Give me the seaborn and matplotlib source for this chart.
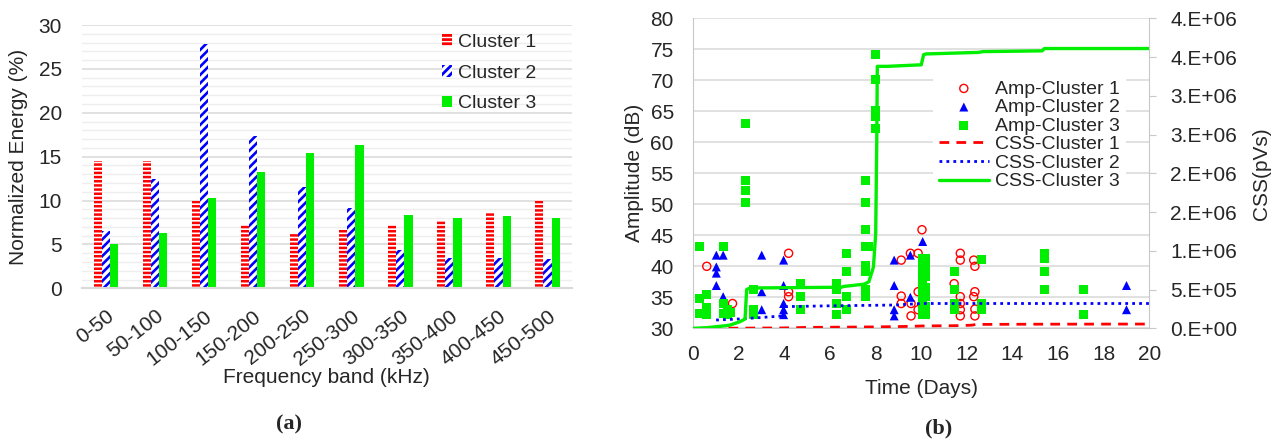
import numpy as np
import pandas as pd
import matplotlib
matplotlib.use("Agg")
import matplotlib.pyplot as plt
import matplotlib.patches as mpatches
import matplotlib.lines as mlines
import seaborn as sns

# ---------------- data: panel (a) ----------------
bands = ["0-50", "50-100", "100-150", "150-200", "200-250",
         "250-300", "300-350", "350-400", "400-450", "450-500"]
cluster_names = ["Cluster 1", "Cluster 2", "Cluster 3"]
energy_c1 = [14.5, 14.5, 9.9, 7.2, 6.3, 6.8, 7.2, 7.8, 8.6, 10.1]
energy_c2 = [6.5, 12.5, 27.8, 17.3, 11.5, 9.1, 4.4, 3.5, 3.5, 3.3]
energy_c3 = [5.1, 6.3, 10.3, 13.2, 15.4, 16.3, 8.4, 8.05, 8.2, 8.05]

# ---------------- data: panel (b) ----------------
amp1_t = [0.59, 1.72, 4.18, 4.18, 4.18, 9.12, 9.12, 9.12, 9.52, 9.55, 9.55,
          9.86, 9.86, 9.86, 10.03, 11.44, 11.71, 11.71, 11.71, 11.71, 11.71,
          11.71, 12.30, 12.35, 12.35, 12.30, 12.35, 12.35]
amp1_db = [40.0, 34.0, 42.1, 35.9, 35.1, 41.0, 35.2, 34.0, 42.1, 32.0, 34.0,
           42.1, 33.0, 35.9, 45.9, 37.2, 42.1, 41.0, 35.1, 34.0, 33.0,
           32.0, 41.0, 40.0, 35.9, 35.1, 33.1, 32.0]

amp2_t = [1.01, 1.31, 1.01, 1.01, 1.01, 1.31, 3.0, 3.0, 3.0, 3.96, 3.96, 3.96,
          3.96, 3.96, 8.81, 8.81, 8.81, 8.81, 9.52, 9.52, 10.06, 10.06, 19.0, 19.0]
amp2_db = [41.8, 41.8, 39.9, 38.9, 36.9, 35.1, 41.8, 35.9, 33.0, 41.0, 36.9, 34.0,
           33.0, 32.2, 41.0, 36.9, 33.0, 32.0, 41.8, 35.0, 44.0, 34.8, 36.9, 33.0]

amp3_t = [0.29, 0.29, 0.29, 0.56, 0.56, 0.56,
          1.31, 1.31, 1.31, 1.52, 1.52, 1.65,
          2.27, 2.27, 2.27, 2.27,
          2.66, 2.66, 2.66,
          4.68, 4.68, 4.68,
          6.27, 6.27, 6.27, 6.27,
          6.71, 6.71, 6.71, 6.71,
          7.55, 7.55, 7.55, 7.55, 7.55, 7.55, 7.55, 7.55, 7.70,
          8.00, 8.00, 8.00, 8.00, 8.00,
          10.06, 10.06, 10.06, 10.06, 10.06, 10.06, 10.06, 10.06, 10.06, 10.06,
          10.19, 10.19, 10.19, 10.19, 10.19, 10.19, 10.19,
          11.44, 11.44, 11.44, 11.44,
          12.64, 12.64, 12.64,
          15.42, 15.42, 15.42, 15.42,
          17.10, 17.10]
amp3_db = [43.2, 34.8, 32.4, 35.4, 33.4, 32.2,
           43.2, 34.0, 32.4, 33.0, 32.2, 32.6,
           63.0, 53.9, 52.2, 50.3,
           36.2, 33.0, 32.2,
           37.2, 35.1, 33.0,
           37.2, 36.2, 34.0, 32.2,
           42.0, 39.1, 35.1, 33.0,
           53.9, 50.3, 46.0, 43.2, 40.2, 39.1, 36.2, 35.1, 43.2,
           74.1, 70.2, 65.2, 64.2, 62.3,
           41.3, 40.2, 39.1, 38.1, 37.0, 35.9, 34.8, 33.8, 32.7, 32.2,
           41.3, 39.8, 38.3, 36.6, 35.1, 33.5, 32.2,
           39.1, 36.2, 34.0, 33.0,
           41.1, 34.0, 33.0,
           42.1, 41.3, 39.1, 36.2,
           36.2, 32.2]

css1_t = [0.8, 2.0, 4.0, 5.0, 6.0, 8.0, 9.5, 10.0, 11.5, 12.2, 12.4, 15.0, 20.0]
css1_v = [0, 2e3, 5e3, 1.2e4, 1.4e4, 1.8e4, 2.5e4, 3.0e4, 3.4e4, 4.0e4, 5.0e4, 5.3e4, 5.5e4]

css2_t = [1.0, 2.0, 3.0, 3.95, 4.05, 6.0, 8.8, 10.0, 20.0]
css2_v = [1.07e5, 1.2e5, 1.4e5, 1.6e5, 2.8e5, 2.9e5, 3.0e5, 3.2e5, 3.2e5]

css3_t = [0.0, 0.6, 1.0, 1.6, 2.05, 2.27, 2.34, 2.5, 6.5, 6.6, 7.5, 7.7, 7.9,
          8.0, 8.05, 8.07, 8.5, 10.0, 10.1, 10.2, 12.5, 12.7, 15.3, 15.4, 20.0]
css3_v = [0, 8e3, 2e4, 4e4, 8.6e4, 1.2e5, 5.0e5, 5.2e5, 5.3e5, 5.4e5, 5.7e5, 6.0e5, 7.9e5,
          1.22e6, 2.5e6, 3.38e6, 3.38e6, 3.40e6, 3.53e6, 3.54e6, 3.56e6, 3.57e6, 3.58e6, 3.61e6, 3.61e6]

css_tick_values = [0, 5e5, 1e6, 1.5e6, 2e6, 2.5e6, 3e6, 3.5e6, 4e6]
css_tick_labels = ["0.E+00", "5.E+05", "1.E+06", "2.E+06", "2.E+06",
                   "3.E+06", "3.E+06", "4.E+06", "4.E+06"]

# ---------------- style ----------------
sns.set_style("white")
plt.rcParams["font.family"] = ["Liberation Sans", "DejaVu Sans"]
plt.rcParams["hatch.linewidth"] = 2.0

RED = "#ff0000"
BLUE = "#0000ff"
GREEN = "#00ee00"
GRID = "#d9d9d9"
GRID_MINOR = "#eeeeee"
SPINE = "#c8c8c8"
FS = 15

fig = plt.figure(figsize=(12.81, 4.40), dpi=100)

# ================= panel (a) =================
ax = fig.add_axes([81.5 / 1281, (440 - 288.3) / 440, 490.5 / 1281, 263.3 / 440])
df = pd.DataFrame({
    "band": bands * 3,
    "cluster": sum([[c] * len(bands) for c in cluster_names], []),
    "energy": energy_c1 + energy_c2 + energy_c3,
})
sns.barplot(data=df, x="band", y="energy", hue="cluster", order=bands,
            hue_order=cluster_names, width=0.5, gap=0, ax=ax,
            palette=[RED, BLUE, GREEN], legend=False, saturation=1)

styles = [dict(face="white", edge=RED, hatch="----", hlw=1.8),
          dict(face="white", edge=BLUE, hatch="////", hlw=1.9),
          dict(face=GREEN, edge=GREEN, hatch=None, hlw=1.0)]


def style_patch(p, st):
    p.set_facecolor(st["face"])
    p.set_edgecolor(st["edge"])
    p.set_linewidth(0)
    if st["hatch"]:
        p.set_hatch(st["hatch"])
        if hasattr(p, "set_hatch_linewidth"):
            p.set_hatch_linewidth(st["hlw"])


for cont, st in zip(ax.containers, styles):
    for p in cont:
        style_patch(p, st)

ax.set_ylim(0, 30)
ax.set_xlim(-0.5, 9.5)
ax.set_yticks(np.arange(0, 31, 5))
ax.set_yticks(np.arange(0, 31, 1), minor=True)
ax.yaxis.grid(True, which="major", color=GRID, lw=1.1)
ax.yaxis.grid(True, which="minor", color=GRID_MINOR, lw=1.0)
ax.set_axisbelow(True)
for s in ["top", "right", "left"]:
    ax.spines[s].set_visible(False)
ax.spines["bottom"].set_color(GRID)
ax.spines["bottom"].set_linewidth(1.5)
ax.tick_params(axis="both", which="both", length=0, labelsize=FS)
ax.tick_params(axis="y", pad=14)
ax.tick_params(axis="x", pad=13)
ax.set_xticks(range(len(bands)))
ax.set_xticklabels(bands, rotation=38, ha="right", rotation_mode="anchor")
ax.set_xlabel("Frequency band (kHz)", fontsize=FS)
ax.set_ylabel("Normalized Energy (%)", fontsize=FS)
ax.xaxis.set_label_coords(0.5, (288.3 - 377) / 263.3)
ax.xaxis.label.set_va("center")
ax.yaxis.set_label_coords((19 - 81.5) / 490.5, 0.5)
ax.yaxis.label.set_va("center")

leg_handles = []
for st, n in zip(styles, cluster_names):
    hp = mpatches.Patch(facecolor=st["face"], edgecolor=st["edge"], lw=0,
                        hatch=st["hatch"], label=n)
    if st["hatch"] and hasattr(hp, "set_hatch_linewidth"):
        hp.set_hatch_linewidth(st["hlw"])
    leg_handles.append(hp)
ax.legend(handles=leg_handles, loc="upper left", bbox_to_anchor=(0.712, 1.01),
          frameon=False, fontsize=14, handlelength=0.5, handleheight=0.55,
          handletextpad=0.3, labelspacing=0.7, borderaxespad=0.2)

# ================= panel (b) =================
axb = fig.add_axes([693.3 / 1281, (440 - 328.3) / 440, 456 / 1281, 310 / 440])
ax2 = axb.twinx()

sns.scatterplot(x=amp1_t, y=amp1_db, ax=axb, marker="o", s=34,
                facecolor="none", edgecolor=RED, linewidth=1.0,
                label="Amp-Cluster 1", legend=False)
sns.scatterplot(x=amp2_t, y=amp2_db, ax=axb, marker="^", s=42,
                color=BLUE, edgecolor="none", label="Amp-Cluster 2", legend=False)
sns.scatterplot(x=amp3_t, y=amp3_db, ax=axb, marker="s", s=42,
                color=GREEN, edgecolor="none", label="Amp-Cluster 3", legend=False)

sns.lineplot(x=css1_t, y=css1_v, ax=ax2, color=RED, lw=2.0,
             linestyle=(0, (3.5, 2.6)), estimator=None, sort=False,
             label="CSS-Cluster 1", legend=False)
sns.lineplot(x=css2_t, y=css2_v, ax=ax2, color=BLUE, lw=2.0,
             linestyle=(0, (1, 1.5)), estimator=None, sort=False,
             label="CSS-Cluster 2", legend=False)
sns.lineplot(x=css3_t, y=css3_v, ax=ax2, color=GREEN, lw=2.4,
             estimator=None, sort=False, label="CSS-Cluster 3", legend=False)

axb.set_xlim(0, 20)
axb.set_ylim(30, 80)
axb.set_xticks(np.arange(0, 21, 2))
axb.set_yticks(np.arange(30, 81, 5))
axb.yaxis.grid(True, color=GRID, lw=1.1)
axb.set_axisbelow(True)
axb.spines["top"].set_visible(False)
axb.spines["right"].set_visible(False)
axb.spines["left"].set_color(SPINE)
axb.spines["bottom"].set_color(SPINE)
axb.tick_params(axis="both", length=0, labelsize=FS)
axb.tick_params(axis="y", pad=14)
axb.tick_params(axis="x", pad=12)
axb.set_xlabel("Time (Days)", fontsize=FS)
axb.set_ylabel("Amplitude (dB)", fontsize=FS)
axb.xaxis.set_label_coords(0.5, (328.3 - 388) / 310)
axb.xaxis.label.set_va("center")
axb.yaxis.set_label_coords((635 - 693.3) / 456, 0.5)
axb.yaxis.label.set_va("center")

ax2.set_ylim(0, 4e6)
ax2.set_yticks(css_tick_values)
ax2.set_yticklabels(css_tick_labels)
for s in ["top", "left", "bottom"]:
    ax2.spines[s].set_visible(False)
ax2.spines["right"].set_color(SPINE)
ax2.tick_params(axis="y", length=5, color=SPINE, labelsize=FS, pad=10)
ax2.set_ylabel("CSS(pVs)", fontsize=FS)
ax2.yaxis.set_label_coords((1261 - 693.3) / 456, 0.5)
ax2.yaxis.label.set_va("center")

h1, l1 = axb.get_legend_handles_labels()
h2, l2 = ax2.get_legend_handles_labels()
leg = ax2.legend(h1 + h2, l1 + l2, loc="upper left", bbox_to_anchor=(0.525, 0.82),
                 fontsize=14, frameon=True, facecolor="white", edgecolor="none",
                 framealpha=1, fancybox=False, handlelength=2.6, labelspacing=0.05,
                 handletextpad=0.3, borderpad=0.3, borderaxespad=0.0)

fig.text(289 / 1281, 1 - 424 / 440, "(a)", family="Liberation Serif",
         fontweight="bold", fontsize=16, ha="center", va="center")
fig.text(939 / 1281, 1 - 428 / 440, "(b)", family="Liberation Serif",
         fontweight="bold", fontsize=16, ha="center", va="center")

fig.savefig("out.png", dpi=100)
